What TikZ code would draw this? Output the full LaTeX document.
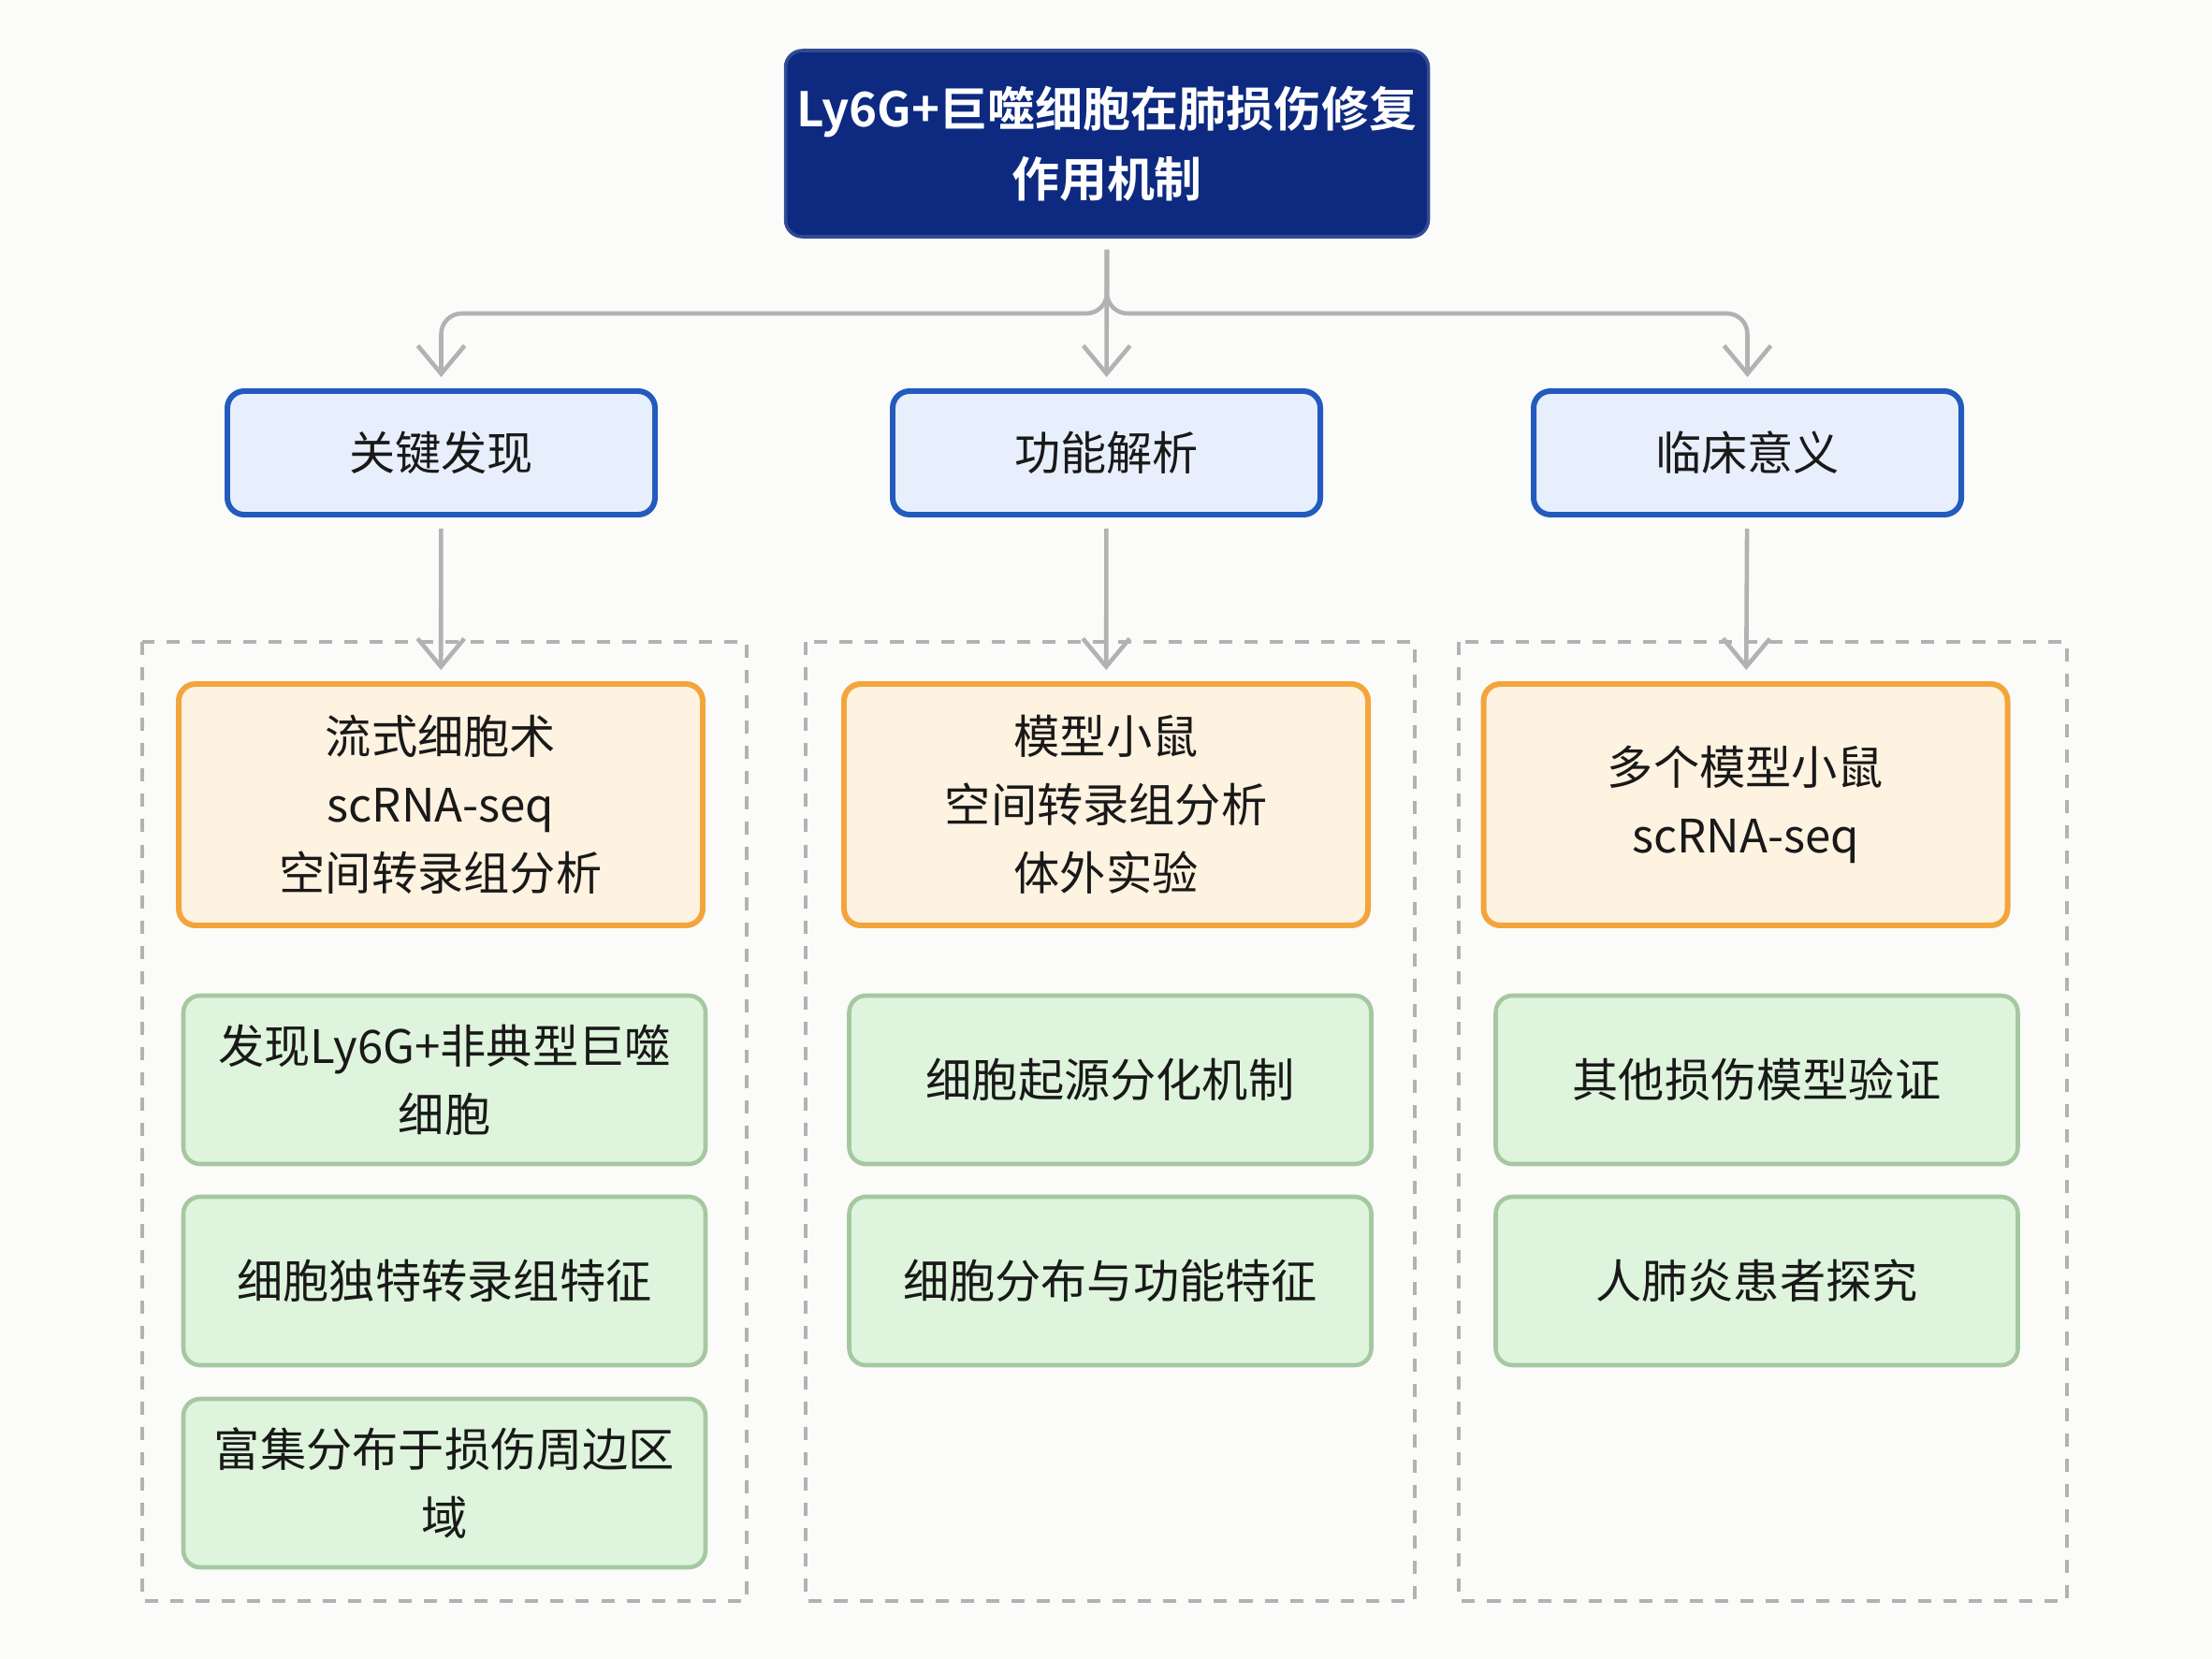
\documentclass[tikz,border=0pt]{standalone}
\usepackage{fontspec}
\setmainfont{Noto Sans CJK SC}[BoldFont={Noto Sans CJK SC Bold}]
\usetikzlibrary{arrows.meta}
\usetikzlibrary{positioning}

\definecolor{titleblue}{RGB}{13,42,128}
\definecolor{catfill}{RGB}{232,239,252}
\definecolor{catline}{RGB}{35,90,190}
\definecolor{srcfill}{RGB}{254,242,224}
\definecolor{srcline}{RGB}{243,165,60}
\definecolor{resfill}{RGB}{222,244,220}
\definecolor{resline}{RGB}{165,200,160}
\definecolor{linkgray}{RGB}{178,178,178}
\definecolor{bggray}{RGB}{251,251,249}
\definecolor{txtdark}{RGB}{25,25,25}

\begin{document}
\begin{tikzpicture}
[>={Straight Barb[length=3mm,width=5mm]},
 every node/.style={align=center,rounded corners=0.18cm,text=txtdark,font=\fontsize{14}{20.8}\selectfont},
 topbox/.style={fill=titleblue,draw=titleblue!85!white,line width=1pt,text=white,minimum width=6.87cm,minimum height=1.99cm,font=\bfseries\fontsize{14.5}{21.5}\selectfont},
 catbox/.style={fill=catfill,draw=catline,line width=1.7pt,minimum width=4.57cm,minimum height=1.32cm},
 srcbox/.style={fill=srcfill,draw=srcline,line width=1.7pt,minimum width=5.6cm,minimum height=2.58cm},
 resbox/.style={fill=resfill,draw=resline,line width=1.3pt,minimum width=5.58cm,minimum height=1.8cm},
 groupbox/.style={draw=linkgray,line width=1.2pt,dash pattern=on 4pt off 3.7pt},
 link/.style={draw=linkgray,line width=1.3pt,rounded corners=0.22cm,shorten <=0.12cm,shorten >=0.12cm}]

\fill[bggray] (0,0) rectangle (23.64,-17.73);

% groups
\draw[groupbox] (1.52,-6.86) rectangle (7.98,-17.11);
\draw[groupbox] (8.61,-6.86) rectangle (15.12,-17.11);
\draw[groupbox] (15.59,-6.86) rectangle (22.09,-17.11);

\node[topbox] (top) at (11.83,-1.535) {Ly6G+巨噬细胞在肺损伤修复\\作用机制};

\node[catbox] (c1) at (4.715,-4.84) {关键发现};
\node[catbox] (c2) at (11.825,-4.84) {功能解析};
\node[catbox] (c3) at (18.675,-4.84) {临床意义};

\node[srcbox] (s1) at (4.71,-8.60) {流式细胞术\\scRNA-seq\\空间转录组分析};
\node[srcbox] (s2) at (11.82,-8.60) {模型小鼠\\空间转录组分析\\体外实验};
\node[srcbox] (s3) at (18.655,-8.60) {多个模型小鼠\\scRNA-seq};

\node[resbox] (r11) at (4.75,-11.54) {发现Ly6G+非典型巨噬\\细胞};
\node[resbox] (r12) at (4.75,-13.69) {细胞独特转录组特征};
\node[resbox] (r13) at (4.75,-15.85) {富集分布于损伤周边区\\域};

\node[resbox] (r21) at (11.865,-11.54) {细胞起源分化机制};
\node[resbox] (r22) at (11.865,-13.69) {细胞分布与功能特征};

\node[resbox] (r31) at (18.775,-11.54) {其他损伤模型验证};
\node[resbox] (r32) at (18.775,-13.69) {人肺炎患者探究};

\coordinate (split) at (11.83,-3.35);

\draw[link,->] (top) -- (split) -| (c1);
\draw[link,->] (top) -- (c2);
\draw[link,->] (top) -- (split) -| (c3);

\draw[link,->] (c1) -- (s1);
\draw[link,->] (c2) -- (s2);
\draw[link,->] (c3) -- (s3);

\end{tikzpicture}
\end{document}
